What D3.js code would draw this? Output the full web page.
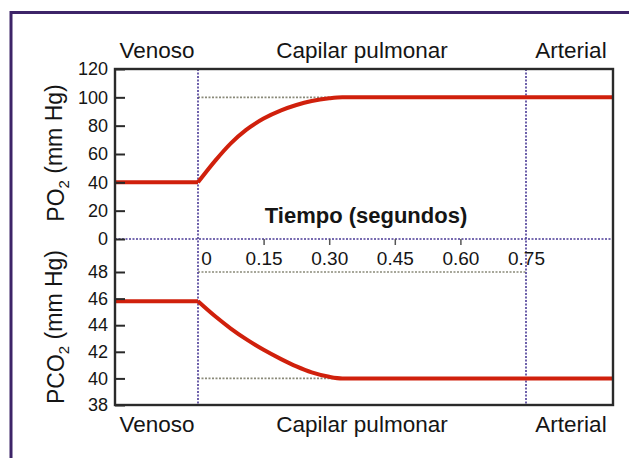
<!DOCTYPE html>
<html>
<head>
<meta charset="utf-8">
<script src="https://cdn.jsdelivr.net/npm/d3@7"></script>
<style>
  body { margin: 0; background: #fff; }
  svg text { font-family: "Liberation Sans", Arial, sans-serif; fill: #151515; }
</style>
</head>
<body>
<div id="chart"></div>
<script>
// values
var timeTicks = [0, 0.15, 0.30, 0.45, 0.60, 0.75];
var po2Ticks = [0, 20, 40, 60, 80, 100, 120];
var pco2Ticks = [38, 40, 42, 44, 46, 48];
var regions = ["Venoso", "Capilar pulmonar", "Arterial"];

var times = [-0.19, 0, 0.04, 0.075, 0.11, 0.15, 0.19, 0.225, 0.26, 0.30, 0.33, 0.75, 0.95];
var po2 = [40, 40, 55.5, 67.5, 77, 85, 90.8, 94.6, 97.4, 99.3, 100, 100, 100];
var pco2 = [45.8, 45.8, 44.65, 43.75, 42.95, 42.15, 41.45, 40.9, 40.45, 40.12, 40, 40, 40];

var po2Ref = [100];
var pco2Ref = [48, 40];

var W = 629, H = 458;
var pLeft = 115, pRight = 613, pTop = 69, pBottom = 405, zeroY = 239;

var svg = d3.select("#chart").append("svg")
    .attr("width", W)
    .attr("height", H);

// outer frame
svg.append("path")
    .attr("d", "M629,12.5 H11 V458")
    .attr("fill", "none")
    .attr("stroke", "#3d2468")
    .attr("stroke-width", 3);

var x = d3.scaleLinear().domain([0, 0.75]).range([198, 526]);
var yTop = d3.scaleLinear().domain([0, 120]).range([zeroY, pTop]);
var yBot = d3.scaleLinear().domain([38, 48]).range([pBottom, 272]);

var dotted = function(sel, color) {
  return sel.attr("stroke", color)
      .attr("stroke-width", 1.6)
      .attr("stroke-dasharray", "2,1.5")
      .attr("fill", "none");
};

// reference lines
po2Ref.forEach(function(v) {
  dotted(svg.append("line"), "#8a8a7a")
      .attr("x1", x(0)).attr("x2", x(0.75))
      .attr("y1", yTop(v)).attr("y2", yTop(v));
});
pco2Ref.forEach(function(v) {
  dotted(svg.append("line"), "#8a8a7a")
      .attr("x1", x(0)).attr("x2", x(0.75))
      .attr("y1", yBot(v)).attr("y2", yBot(v));
});

// zero line and region dividers
dotted(svg.append("line"), "#4a3a96")
    .attr("x1", pLeft).attr("x2", pRight)
    .attr("y1", zeroY).attr("y2", zeroY);
[0, 0.75].forEach(function(t) {
  dotted(svg.append("line"), "#4a3a96")
      .attr("x1", x(t)).attr("x2", x(t))
      .attr("y1", pTop).attr("y2", pBottom);
});

// curves: flat venous part + smooth capillary part
function drawSeries(vals, y) {
  var pts = times.map(function(t, i) { return [t, vals[i]]; });
  var flat = d3.line().x(function(d) { return x(d[0]); }).y(function(d) { return y(d[1]); });
  var smooth = d3.line().x(function(d) { return x(d[0]); }).y(function(d) { return y(d[1]); })
      .curve(d3.curveMonotoneX);
  svg.append("path").attr("d", flat(pts.slice(0, 2)))
      .attr("fill", "none").attr("stroke", "#d0200c").attr("stroke-width", 4);
  svg.append("path").attr("d", smooth(pts.slice(1)))
      .attr("fill", "none").attr("stroke", "#d0200c").attr("stroke-width", 4);
}
drawSeries(po2, yTop);
drawSeries(pco2, yBot);

// plot box
svg.append("rect")
    .attr("x", pLeft).attr("y", pTop)
    .attr("width", pRight - pLeft).attr("height", pBottom - pTop)
    .attr("fill", "none")
    .attr("stroke", "#2a2a2a")
    .attr("stroke-width", 2.4);

// y axes
var yAxisTop = d3.axisLeft(yTop).tickValues(po2Ticks).tickSizeInner(-10).tickSizeOuter(0).tickPadding(7);
var yAxisBot = d3.axisLeft(yBot).tickValues(pco2Ticks).tickSizeInner(-10).tickSizeOuter(0).tickPadding(7);

[yAxisTop, yAxisBot].forEach(function(ax) {
  var g = svg.append("g")
      .attr("transform", "translate(" + pLeft + ",0)")
      .call(ax);
  g.select(".domain").remove();
  g.selectAll(".tick line").attr("stroke", "#2a2a2a").attr("stroke-width", 2);
  g.selectAll(".tick text")
      .style("font-size", "18px")
      .style("font-family", "'Liberation Sans', Arial, sans-serif")
      .attr("fill", "#151515");
});

// time axis on the zero line
var xAxis = d3.axisBottom(x).tickValues(timeTicks).tickSize(6).tickPadding(7)
    .tickFormat(function(d) { return d === 0 ? "0" : d3.format(".2f")(d); });
var gx = svg.append("g")
    .attr("transform", "translate(0," + zeroY + ")")
    .call(xAxis);
gx.select(".domain").remove();
gx.selectAll(".tick line").attr("stroke", "#555").attr("stroke-width", 1.5)
    .filter(function(d) { return d === 0 || d === 0.75; }).remove();
gx.selectAll(".tick text")
    .style("font-size", "19px")
    .style("font-family", "'Liberation Sans', Arial, sans-serif")
    .attr("fill", "#151515")
    .filter(function(d) { return d === 0; })
    .attr("x", 8);

svg.append("text")
    .attr("x", 366).attr("y", 223)
    .attr("text-anchor", "middle")
    .style("font-size", "22px")
    .style("font-weight", "bold")
    .text("Tiempo (segundos)");

// region headings top and bottom
var regionX = [157, 362, 571];
[58, 432].forEach(function(yy) {
  svg.selectAll(null).data(regions).enter().append("text")
      .attr("x", function(d, i) { return regionX[i]; })
      .attr("y", yy)
      .attr("text-anchor", "middle")
      .style("font-size", "22.5px")
      .text(function(d) { return d; });
});

// y titles with subscripts
function yTitle(cx, cy, main) {
  var t = svg.append("text")
      .attr("transform", "translate(" + cx + "," + cy + ") rotate(-90)")
      .attr("text-anchor", "middle")
      .style("font-size", "23px");
  t.append("tspan").text(main);
  t.append("tspan").attr("dy", "0.3em").style("font-size", "15px").text("2");
  t.append("tspan").attr("dy", "-0.3em").text(" (mm Hg)");
}
yTitle(64, 153, "PO");
yTitle(64, 327, "PCO");
</script>
</body>
</html>
